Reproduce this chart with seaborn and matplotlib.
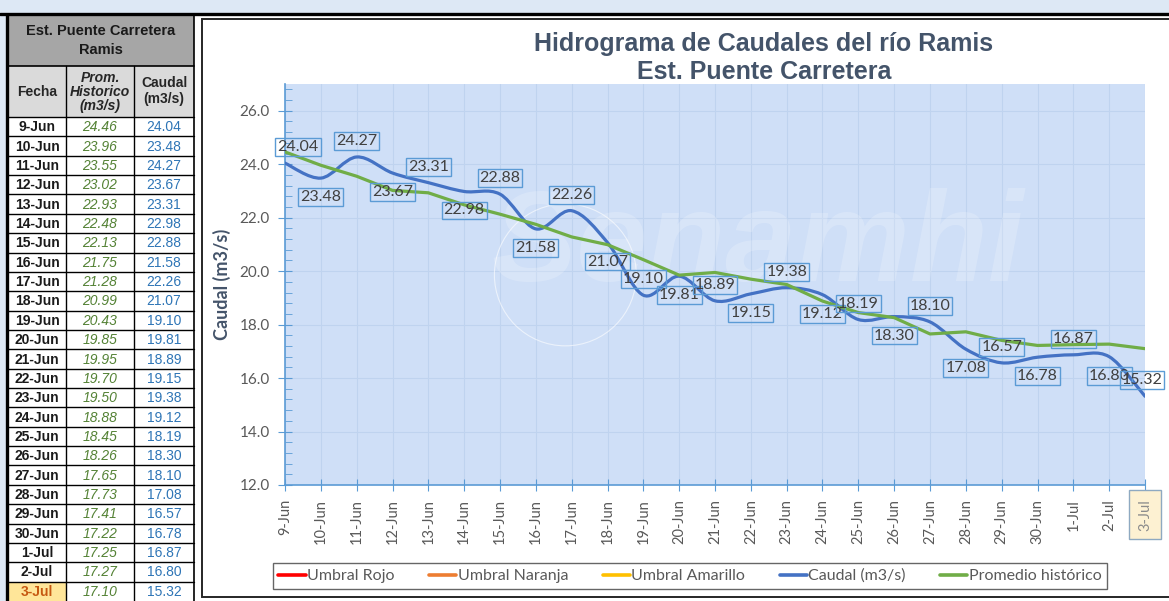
import numpy as np
import pandas as pd
import seaborn as sns
import matplotlib.pyplot as plt
from matplotlib.patches import Rectangle, PathPatch, Ellipse
from matplotlib.path import Path
from matplotlib.lines import Line2D

fechas = ["9-Jun", "10-Jun", "11-Jun", "12-Jun", "13-Jun", "14-Jun", "15-Jun", "16-Jun",
          "17-Jun", "18-Jun", "19-Jun", "20-Jun", "21-Jun", "22-Jun", "23-Jun", "24-Jun",
          "25-Jun", "26-Jun", "27-Jun", "28-Jun", "29-Jun", "30-Jun", "1-Jul", "2-Jul", "3-Jul"]
prom_historico = [24.46, 23.96, 23.55, 23.02, 22.93, 22.48, 22.13, 21.75, 21.28, 20.99,
                  20.43, 19.85, 19.95, 19.70, 19.50, 18.88, 18.45, 18.26, 17.65, 17.73,
                  17.41, 17.22, 17.25, 17.27, 17.10]
caudal = [24.04, 23.48, 24.27, 23.67, 23.31, 22.98, 22.88, 21.58, 22.26, 21.07,
          19.10, 19.81, 18.89, 19.15, 19.38, 19.12, 18.19, 18.30, 18.10, 17.08,
          16.57, 16.78, 16.87, 16.80, 15.32]
series_legend = ["Umbral Rojo", "Umbral Naranja", "Umbral Amarillo", "Caudal (m3/s)", "Promedio histórico"]
colores_legend = ["#ff0000", "#ed7d31", "#ffc000", "#4472c4", "#70ad47"]

df = pd.DataFrame({"pos": np.arange(len(fechas)), "Fecha": fechas,
                   "Prom": prom_historico, "Caudal": caudal})

sns.set_style("white")
plt.rcParams["font.family"] = ["Lato", "DejaVu Sans"]

W, H = 1169, 601
fig = plt.figure(figsize=(W / 100, H / 100), dpi=100)
fig.patch.set_facecolor("white")

# capa de fondo en pixeles (tabla, marco)
ov = fig.add_axes([0, 0, 1, 1])
ov.set_xlim(0, W)
ov.set_ylim(H, 0)
ov.axis("off")
ov.set_zorder(0)

ov.add_patch(Rectangle((0, 0), W, 13, fc="#dde8f5", ec="none"))
ov.add_patch(Rectangle((0, 13), 7, H, fc="#dde8f5", ec="none"))
ov.plot([0, W], [14, 14], color="black", lw=2.4)
ov.add_patch(Rectangle((202, 19), W, 578, fc="white", ec="#262626", lw=1.4))

# tabla
cx = [7, 66, 134, 194]
top_title, top_head, top_rows = 15, 66, 117
rh = (H - top_rows) / len(fechas)
ov.add_patch(Rectangle((cx[0], top_title), cx[3] - cx[0], top_head - top_title, fc="#a6a6a6", ec="none"))
ov.add_patch(Rectangle((cx[0], top_head), cx[3] - cx[0], top_rows - top_head, fc="#dadada", ec="none"))
tf = ["Liberation Sans", "DejaVu Sans"]
ov.text(101, 31, "Est. Puente Carretera", ha="center", va="center", fontsize=10.5,
        fontweight="bold", family=tf, color="#1a1a1a")
ov.text(101, 50, "Ramis", ha="center", va="center", fontsize=10.5, fontweight="bold",
        family=tf, color="#1a1a1a")
ov.text(37, 92, "Fecha", ha="center", va="center", fontsize=10, fontweight="bold", family=tf)
ov.text(100, 92, "Prom.\nHistorico\n(m3/s)", ha="center", va="center", fontsize=10,
        fontweight="bold", style="italic", family=tf, linespacing=1.0)
ov.text(164, 91, "Caudal\n(m3/s)", ha="center", va="center", fontsize=10,
        fontweight="bold", family=tf, linespacing=1.2)

for i, f in enumerate(fechas):
    y0 = top_rows + i * rh
    yc = y0 + rh / 2 + 0.5
    ultimo = i == len(fechas) - 1
    if ultimo:
        ov.add_patch(Rectangle((cx[0], y0), cx[1] - cx[0], rh, fc="#ffe699", ec="none"))
    ov.text(37, yc, f, ha="center", va="center", fontsize=10, fontweight="bold", family=tf,
            color="#c65911" if ultimo else "#1a1a1a")
    ov.text(100, yc, f"{prom_historico[i]:.2f}", ha="center", va="center", fontsize=10,
            style="italic", family=tf, color="#548235")
    ov.text(164, yc, f"{caudal[i]:.2f}", ha="center", va="center", fontsize=10,
            family=tf, color="#2e75b6")
    ov.plot([cx[0], cx[3]], [y0, y0], color="black", lw=1)

ov.plot([cx[0], cx[3]], [top_head, top_head], color="black", lw=1.2)
for x in cx[1:3]:
    ov.plot([x, x], [top_head, H], color="black", lw=1)
ov.plot([cx[0], cx[0]], [top_title, H], color="black", lw=2.4)
ov.plot([cx[3], cx[3]], [top_title, H], color="black", lw=1.2)

# titulo
ov.text(764, 44, "Hidrograma de Caudales del río Ramis", ha="center", va="center",
        fontsize=18, fontweight="bold", family=tf, color="#44546a")
ov.text(764, 72, "Est. Puente Carretera", ha="center", va="center",
        fontsize=18, fontweight="bold", family=tf, color="#44546a")

# grafico principal
x0, x1, ytop, ybot = 285, 1145, 84, 485
ax = fig.add_axes([x0 / W, 1 - ybot / H, (x1 - x0) / W, (ybot - ytop) / H])
ax.set_zorder(1)
ax.set_facecolor("#cfdff7")

# marca de agua
ax.text(0.55, 0.59, "Senamhi", transform=ax.transAxes, ha="center", va="center",
        fontsize=92, fontweight="bold", style="italic", family=tf, color="white", alpha=0.2)
ax.add_patch(Ellipse((0.326, 0.524), 0.165, 0.354, transform=ax.transAxes, fc="none",
                     ec="white", lw=0.8, alpha=0.6))

sns.lineplot(data=df, x="pos", y="Prom", ax=ax, color="#70ad47", lw=2.3, zorder=4)


def curva_suave(xs, ys, t=1 / 6):
    verts = [(xs[0], ys[0])]
    codes = [Path.MOVETO]
    n = len(xs)
    for i in range(n - 1):
        a = max(i - 1, 0)
        b = min(i + 2, n - 1)
        c1 = (xs[i] + (xs[i + 1] - xs[a]) * t, ys[i] + (ys[i + 1] - ys[a]) * t)
        c2 = (xs[i + 1] - (xs[b] - xs[i]) * t, ys[i + 1] - (ys[b] - ys[i]) * t)
        verts += [c1, c2, (xs[i + 1], ys[i + 1])]
        codes += [Path.CURVE4] * 3
    return Path(verts, codes)


ax.add_patch(PathPatch(curva_suave(df["pos"].values, df["Caudal"].values), fc="none",
                       ec="#4472c4", lw=2.3, capstyle="round", joinstyle="round", zorder=3))

# etiquetas de datos
for i, v in enumerate(caudal):
    dy = 16 if i % 2 == 0 else -19
    dx = 13 if i == 0 else (-3 if i == len(caudal) - 1 else 0)
    ax.annotate(f"{v:.2f}", (i, v), xytext=(dx, dy), textcoords="offset pixels",
                ha="center", va="center", fontsize=11.5, color="#404040", zorder=6,
                bbox=dict(boxstyle="square,pad=0.12", fc="none", ec="#5b9bd5", lw=1),
                annotation_clip=False)

ax.set_xlim(0, len(fechas) - 1)
ax.set_ylim(12, 27)
ax.set_xticks(df["pos"])
ax.set_xticklabels(fechas, rotation=90)
ax.set_yticks(np.arange(12, 27, 2))
ax.set_yticklabels([f"{t:.1f}" for t in np.arange(12, 27, 2)])
ax.set_yticks(np.arange(12, 27.01, 0.4), minor=True)
ax.grid(True, which="major", color="#bfd3ef", lw=0.8)
ax.set_axisbelow(True)
for s in ["top", "right"]:
    ax.spines[s].set_visible(False)
for s in ["left", "bottom"]:
    ax.spines[s].set_color("#5b9bd5")
    ax.spines[s].set_linewidth(1.2)
ax.tick_params(axis="y", which="major", direction="inout", length=10, color="#5b9bd5",
               labelsize=11, labelcolor="#595959", pad=6, left=True)
ax.tick_params(axis="y", which="minor", direction="in", length=5, color="#5b9bd5", left=True)
ax.tick_params(axis="x", which="major", direction="inout", length=8, color="#5b9bd5",
               labelsize=10.5, labelcolor="#595959", pad=6, bottom=True)
ax.set_xlabel("")
ax.set_ylabel("Caudal (m3/s)", fontsize=13, fontweight="bold", color="#44546a", labelpad=6)

lbl = ax.get_xticklabels()[-1]
lbl.set_color("#8c8c8c")
lbl.set_bbox(dict(boxstyle="square,pad=0.6", fc="#fdf1d2", ec="#8ea9c1", lw=1))

# leyenda
handles = [Line2D([0], [0], color=c, lw=2.6) for c in colores_legend]
leg = fig.legend(handles, series_legend, loc="center", bbox_to_anchor=(690 / W, 1 - 576 / H),
                 ncol=5, fontsize=11.5, frameon=True, fancybox=False, handlelength=1.7,
                 handletextpad=0.1, columnspacing=2.15, borderpad=0.35, borderaxespad=0)
leg.get_frame().set_edgecolor("#404040")
leg.get_frame().set_linewidth(1)
for t in leg.get_texts():
    t.set_color("#595959")

fig.savefig("out.png", dpi=100)
